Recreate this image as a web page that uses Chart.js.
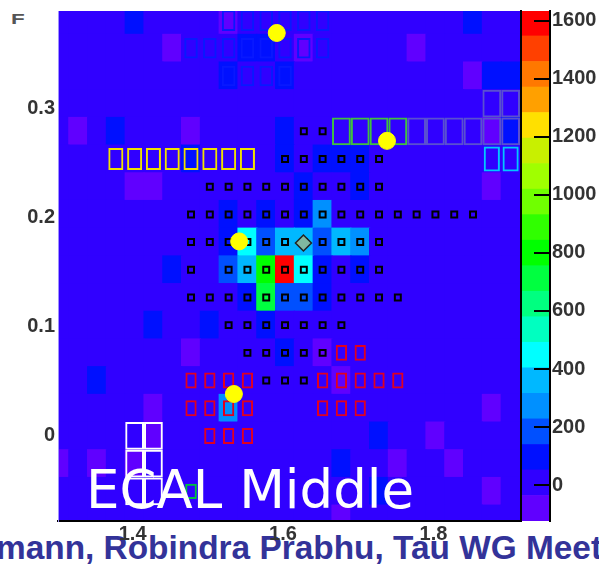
<!DOCTYPE html>
<html>
<head>
<meta charset="utf-8">
<title>ECAL Middle</title>
<script src="https://cdn.jsdelivr.net/npm/chart.js@4"></script>
<style>
  html, body { margin: 0; padding: 0; background: #fff; }
  #page { position: relative; width: 599px; height: 568px; overflow: hidden; }
  #page canvas { position: absolute; left: 0; top: 0; filter: blur(0.4px); }
  .txt { position: absolute; white-space: nowrap; }
  #caption { left: -4px; top: 529px; font: bold 33.4px "Liberation Sans", sans-serif; color: #333399; }
  #layer { left: 86px; top: 459px; font: 53px "DejaVu Sans", sans-serif; color: #fff; z-index: 3; }
  #corner { left: 11px; top: 10px; font: bold 15px "Liberation Sans", sans-serif; color: #555; transform: scaleX(1.5); transform-origin: left top; }
</style>
</head>
<body>
<div id="page">
  <div id="caption" class="txt">mann, Robindra Prabhu, Tau WG Meet</div>
  <div id="corner" class="txt">F</div>
  <canvas id="cellChart" width="599" height="568"></canvas>
  <canvas id="scaleChart" width="599" height="568"></canvas>
  <div id="layer" class="txt">ECAL Middle</div>
</div>
<script>
// bin centres
const etaBins = [1.3, 1.325, 1.35, 1.375, 1.4, 1.425, 1.45, 1.475, 1.5, 1.525, 1.55, 1.575, 1.6,
                 1.625, 1.65, 1.675, 1.7, 1.725, 1.75, 1.775, 1.8, 1.825, 1.85, 1.875, 1.9];
const phiBins = [0.38, 0.3547, 0.3294, 0.3041, 0.2787, 0.2534, 0.228, 0.2027, 0.1774, 0.152,
                 0.1267, 0.1014, 0.076, 0.0507, 0.0253, 0, -0.0253, -0.0507, -0.076];
const rowHalf = 0.01267;

// cell energies, one line per phi row, top row first
const cellEnergy = [
  [0,0,0,0,100,0,0,0,0,-80,0,0,0,0,0,0,0,0,0,0,0,0,100,0,0],
  [0,0,0,0,0,0,-80,0,0,0,100,100,0,-80,0,0,0,0,0,-80,0,0,0,0,0],
  [0,0,0,0,0,0,0,0,0,100,0,0,100,0,0,0,0,0,0,0,0,0,-80,100,100],
  [0,0,0,0,0,0,0,0,0,0,0,0,0,0,0,0,0,0,0,0,0,0,0,0,0],
  [0,-80,0,100,0,0,0,-80,0,0,0,0,100,0,0,0,0,0,0,0,0,0,0,-80,100],
  [0,0,0,0,0,0,0,100,0,0,0,0,100,0,100,100,100,0,0,0,0,0,0,0,0],
  [0,0,0,0,-80,-80,0,0,0,0,0,0,0,100,0,0,100,0,0,0,0,0,0,-80,0],
  [0,0,0,0,0,0,0,0,0,100,0,100,0,100,270,0,0,0,0,0,0,0,0,0,0],
  [0,0,0,0,0,0,0,0,0,100,450,180,360,360,180,360,270,0,0,0,0,0,0,0,0],
  [0,0,0,0,0,0,100,0,0,180,360,800,1590,450,100,0,100,0,0,0,0,0,0,0,0],
  [0,0,0,0,0,0,0,0,0,0,100,700,180,180,100,0,0,0,0,0,0,0,0,0,0],
  [0,0,0,0,0,100,0,0,100,0,0,100,0,0,0,0,0,0,0,0,0,0,0,0,0],
  [0,0,0,0,0,0,0,-80,0,0,0,0,100,0,-80,0,0,0,0,0,0,0,0,0,0],
  [0,0,100,0,0,0,0,0,0,0,0,0,0,0,0,-80,0,0,0,0,0,0,0,0,0],
  [0,0,0,0,0,-80,0,0,0,270,0,0,0,0,0,0,0,0,0,0,0,0,0,-80,0],
  [0,0,0,0,0,-80,0,0,0,0,0,0,0,0,0,0,0,100,0,0,-80,0,0,0,0],
  [-80,0,-80,0,-80,0,0,0,0,0,0,0,0,0,0,100,0,0,-80,0,0,-80,0,0,0],
  [0,0,0,0,0,0,0,0,0,0,0,0,0,0,0,0,0,100,0,0,0,0,0,-80,0],
  [0,0,0,0,0,0,0,0,0,0,0,0,0,0,0,-80,0,0,0,0,0,0,0,0,0]
];

// palette bands, lowest first
const bandEdges = [-124, -36, 52, 140, 228, 316, 404, 492, 580, 668, 756, 844, 932, 1020, 1108, 1196, 1284, 1372, 1460, 1548, 1634];
const bandColors = ['#6000ff', '#3000ff', '#0010ff', '#0050ff', '#0090ff', '#00b8ff', '#00ffff', '#00ffc0', '#00ff80', '#00ff40',
                    '#00ff00', '#30ff00', '#70ff00', '#a0ff00', '#c8f000', '#ffe000', '#ffa000', '#ff7800', '#ff4000', '#ff0000'];

const etaTicks = [1.4, 1.6, 1.8];
const phiTicks = [0, 0.1, 0.2, 0.3];
const energyTicks = [0, 200, 400, 600, 800, 1000, 1200, 1400, 1600];

// outlined groups: [phi, [eta, ...]]
const blackRows = [
  [0.2787, [1.625, 1.65]],
  [0.2534, [1.6, 1.625, 1.65, 1.675, 1.7, 1.725]],
  [0.228, [1.5, 1.525, 1.55, 1.575, 1.6, 1.625, 1.65, 1.675, 1.7, 1.725]],
  [0.2027, [1.475, 1.5, 1.525, 1.55, 1.575, 1.6, 1.625, 1.65, 1.675, 1.7, 1.725, 1.75, 1.775, 1.8, 1.825, 1.85]],
  [0.1774, [1.475, 1.5, 1.525, 1.55, 1.575, 1.6, 1.625, 1.65, 1.675, 1.7, 1.725]],
  [0.152, [1.475, 1.525, 1.55, 1.575, 1.6, 1.625, 1.65, 1.675, 1.7, 1.725]],
  [0.1267, [1.475, 1.5, 1.525, 1.55, 1.575, 1.6, 1.625, 1.65, 1.675, 1.7, 1.725, 1.75]],
  [0.1014, [1.525, 1.55, 1.575, 1.6, 1.625, 1.65, 1.675]],
  [0.076, [1.55, 1.575, 1.6, 1.625, 1.65]],
  [0.0507, [1.575, 1.6, 1.625]]
];
const redRows = [
  [0.076, [1.675, 1.7]],
  [0.0507, [1.475, 1.5, 1.525, 1.55, 1.65, 1.675, 1.7, 1.725, 1.75]],
  [0.0253, [1.475, 1.5, 1.525, 1.55, 1.65, 1.675, 1.7]],
  [0, [1.5, 1.525, 1.55]]
];
const blueRows = [
  [0.38, [1.525, 1.55, 1.575, 1.6, 1.625, 1.65]],
  [0.3547, [1.475, 1.5, 1.525, 1.55, 1.575, 1.6, 1.625, 1.65]],
  [0.3294, [1.525, 1.55, 1.575, 1.6]]
];
const yellowRows = [[0.2534, [1.375, 1.4, 1.425, 1.45, 1.475, 1.5, 1.525, 1.55]]];
const greenRows = [[0.2787, [1.675, 1.7, 1.725, 1.75]]];
const smallGreenRows = [[-0.0507, [1.475]]];
const greyRows = [
  [0.3041, [1.875, 1.9]],
  [0.2787, [1.775, 1.8, 1.825, 1.85, 1.875, 1.9]]
];
const cyanRows = [[0.2534, [1.875, 1.9]]];
const whiteRows = [
  [0, [1.4, 1.425]],
  [-0.0253, [1.4, 1.425]],
  [-0.0507, [1.4, 1.425]]
];
const clusterPoints = [
  { x: 1.589, y: 0.3687 },
  { x: 1.7356, y: 0.27 },
  { x: 1.539, y: 0.178 },
  { x: 1.532, y: 0.0384 }
];
const seedPoint = [{ x: 1.6245, y: 0.1765 }];

function bandColor(v) {
  for (let i = 0; i < bandColors.length; i++) {
    if (v < bandEdges[i + 1]) return bandColors[i];
  }
  return bandColors[bandColors.length - 1];
}

function boxes(rows, half) {
  const out = [];
  rows.forEach(([phi, etas]) => etas.forEach(eta => out.push({ x: eta, y: [phi - half, phi + half] })));
  return out;
}

function outline(rows, half, color, pct) {
  return {
    type: 'bar', grouped: false, data: boxes(rows, half),
    backgroundColor: 'transparent', borderColor: color, borderWidth: 2,
    borderSkipped: false, inflateAmount: 0, barPercentage: pct, categoryPercentage: 1
  };
}

// axis boxes keep their size but must not push the plot area around
function fixSize(s, w, h) {
  if (w !== null) s.width = w;
  if (h !== null) s.height = h;
  s.paddingTop = s.paddingBottom = s.paddingLeft = s.paddingRight = 0;
}

const heatData = [];
phiBins.forEach((phi, r) => etaBins.forEach((eta, c) => {
  heatData.push({ x: eta, y: [phi - rowHalf, phi + rowHalf], v: cellEnergy[r][c] });
}));

Chart.defaults.font.family = '"Liberation Sans", sans-serif';
Chart.defaults.font.size = 20;
Chart.defaults.font.weight = 'bold';
Chart.defaults.color = '#333';
Chart.defaults.animation = false;
Chart.defaults.responsive = false;
Chart.defaults.plugins.legend.display = false;
Chart.defaults.plugins.tooltip.enabled = false;

// first dataset ends up on top
new Chart(document.getElementById('cellChart'), {
  type: 'bar',
  data: {
    datasets: [
      { type: 'scatter', data: clusterPoints, pointStyle: 'circle', pointRadius: 8.5, backgroundColor: '#ffff00', borderColor: '#ffff00' },
      { type: 'scatter', data: seedPoint, pointStyle: 'rectRot', pointRadius: 8, backgroundColor: '#80b8a0', borderColor: '#222', borderWidth: 1.5 },
      { type: 'scatter', data: blackRows.flatMap(([phi, etas]) => etas.map(eta => ({ x: eta, y: phi }))),
        pointStyle: 'rect', pointRadius: 4.2, backgroundColor: 'transparent', borderColor: '#000', borderWidth: 2 },
      outline(whiteRows, rowHalf, '#ffffff', 1),
      outline(smallGreenRows, 0.0069, '#00c040', 0.62),
      outline(redRows, 0.0073, '#e00020', 0.6),
      outline(cyanRows, 0.0114, '#00c8ff', 0.86),
      outline(yellowRows, 0.0101, '#f0e000', 0.8),
      outline(greenRows, rowHalf, '#40c040', 1),
      outline(greyRows, rowHalf, '#5a50d0', 1),
      outline(blueRows, 0.0094, '#0818ff', 0.72),
      {
        type: 'bar', grouped: false, data: heatData,
        backgroundColor: heatData.map(d => bandColor(d.v)),
        barPercentage: 1, categoryPercentage: 1, borderWidth: 0, inflateAmount: 0.6
      }
    ]
  },
  options: {
    layout: { autoPadding: false, padding: { left: 0, top: 11, right: 78, bottom: 0 } },
    scales: {
      x: {
        type: 'linear', min: 1.2981, max: 1.9138, offset: false,
        afterBuildTicks: s => { s.ticks = etaTicks.map(v => ({ value: v })); },
        afterFit: s => fixSize(s, null, 47),
        grid: { drawOnChartArea: false, drawTicks: false },
        border: { color: '#000', width: 2, z: 1 },
        ticks: { padding: 1, labelOffset: -2, maxRotation: 0, autoSkip: false, callback: v => v.toFixed(1) }
      },
      y: {
        type: 'linear', min: -0.0778, max: 0.3888,
        afterBuildTicks: s => { s.ticks = phiTicks.map(v => ({ value: v })); },
        afterFit: s => fixSize(s, 58, null),
        grid: { drawOnChartArea: false, drawTicks: false },
        border: { color: '#a090ff', width: 1, z: 1 },
        ticks: { padding: 3, autoSkip: false, callback: v => (v === 0 ? '0' : v.toFixed(1)) }
      }
    }
  }
});

new Chart(document.getElementById('scaleChart'), {
  type: 'bar',
  data: {
    labels: ['energy'],
    datasets: bandColors.map((c, i) => ({
      data: [[bandEdges[i], bandEdges[i + 1]]],
      backgroundColor: c,
      grouped: false,
      barPercentage: 1,
      categoryPercentage: 1,
      yAxisID: 'y'
    }))
  },
  options: {
    layout: { autoPadding: false, padding: { left: 521, top: 11, right: 0, bottom: 47 } },
    scales: {
      x: { display: false },
      y: {
        type: 'linear', position: 'right', min: -124, max: 1634,
        afterBuildTicks: s => { s.ticks = energyTicks.map(v => ({ value: v })); },
        afterFit: s => fixSize(s, 49, null),
        grid: { z: 1, drawOnChartArea: false, color: '#000', lineWidth: 2, tickLength: -16 },
        border: { color: '#000', width: 2, z: 1 },
        ticks: { padding: 18, autoSkip: false, callback: v => String(v) }
      },
      yEdge: {
        type: 'linear', position: 'left', min: 0, max: 1,
        afterFit: s => fixSize(s, 0, null),
        grid: { display: false },
        border: { color: '#000', width: 2, z: 1 },
        ticks: { display: false }
      }
    }
  }
});
</script>
</body>
</html>
